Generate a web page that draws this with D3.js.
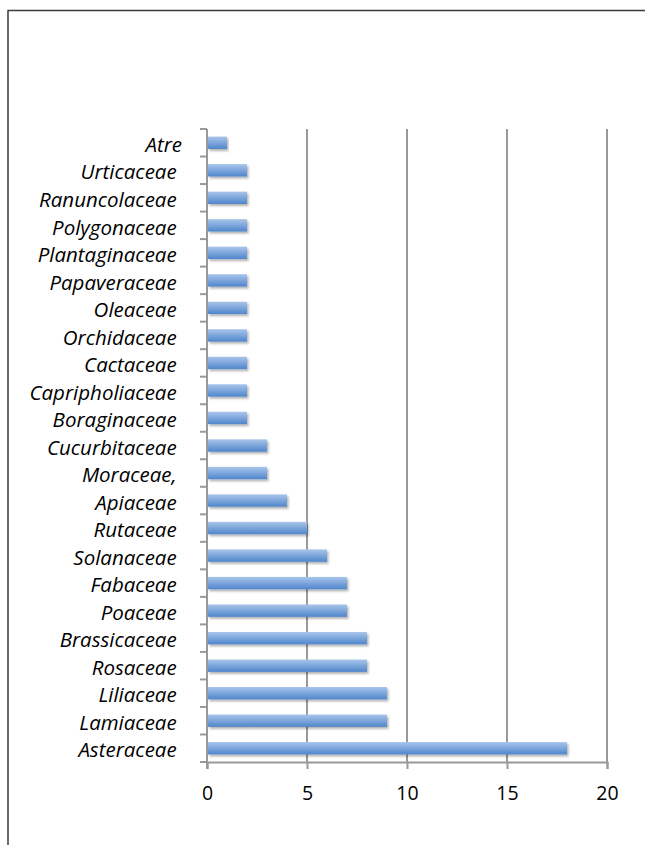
<!DOCTYPE html>
<html>
<head>
<meta charset="utf-8">
<script src="https://cdn.jsdelivr.net/npm/d3@7"></script>
<style>
  body { margin: 0; background: #fff; }
  svg text { font-family: "Open Sans", Lato, sans-serif; }
</style>
</head>
<body>
<div id="chart"></div>
<script>
// families, top to bottom (trailing space as in the original labels)
const families = ["Atre", "Urticaceae ", "Ranuncolaceae ", "Polygonaceae ", "Plantaginaceae ",
  "Papaveraceae ", "Oleaceae ", "Orchidaceae ", "Cactaceae ", "Capripholiaceae ",
  "Boraginaceae ", "Cucurbitaceae ", "Moraceae, ", "Apiaceae ", "Rutaceae ",
  "Solanaceae ", "Fabaceae ", "Poaceae ", "Brassicaceae ", "Rosaceae ",
  "Liliaceae ", "Lamiaceae ", "Asteraceae "]
const counts = [1, 2, 2, 2, 2, 2, 2, 2, 2, 2, 2, 3, 3, 4, 5, 6, 7, 7, 8, 8, 9, 9, 18]
const xTicks = [0, 5, 10, 15, 20]

const width = 645, height = 845
const margin = {top: 129, right: 38, bottom: 83, left: 207}

const svg = d3.select("#chart").append("svg")
    .attr("width", width)
    .attr("height", height)

// gradient + shadow for bars
const defs = svg.append("defs")
const grad = defs.append("linearGradient")
    .attr("id", "barGrad").attr("x1", 0).attr("y1", 0).attr("x2", 0).attr("y2", 1)
grad.append("stop").attr("offset", "0%").attr("stop-color", "#a9c5ea")
grad.append("stop").attr("offset", "100%").attr("stop-color", "#4f86cc")
const shadow = defs.append("filter").attr("id", "shadow")
    .attr("x", "-5%").attr("y", "-30%").attr("width", "115%").attr("height", "190%")
shadow.append("feDropShadow")
    .attr("dx", 1.5).attr("dy", 2).attr("stdDeviation", 1.2)
    .attr("flood-color", "#000").attr("flood-opacity", 0.3)

// outer frame
svg.append("path")
    .attr("d", `M8,${height + 5} V10.5 H${width + 5}`)
    .attr("fill", "none").attr("stroke", "#3a3a3a").attr("stroke-width", 1.5)

const x = d3.scaleLinear().domain([0, 20]).range([margin.left, width - margin.right])
const y = d3.scaleBand().domain(families).range([margin.top, height - margin.bottom]).paddingInner(0.55).paddingOuter(0.275)

// vertical gridlines
svg.append("g").selectAll("line")
    .data(xTicks.slice(1))
    .enter().append("line")
    .attr("x1", d => x(d)).attr("x2", d => x(d))
    .attr("y1", margin.top).attr("y2", height - margin.bottom)
    .attr("stroke", "#999").attr("stroke-width", 2)

// bars
svg.append("g").selectAll("rect")
    .data(families)
    .enter().append("rect")
    .attr("x", x(0) + 1)
    .attr("y", d => y(d))
    .attr("width", (d, i) => x(counts[i]) - x(0) - 1)
    .attr("height", y.bandwidth())
    .attr("fill", "url(#barGrad)")
    .attr("filter", "url(#shadow)")

// x axis
const xAxis = svg.append("g")
    .attr("transform", `translate(0,${height - margin.bottom})`)
    .call(d3.axisBottom(x).tickValues(xTicks).tickSize(7).tickPadding(17))
xAxis.select(".domain").attr("stroke", "#999").attr("stroke-width", 2)
xAxis.selectAll(".tick line").attr("stroke", "#999").attr("stroke-width", 2)
xAxis.selectAll("text").attr("font-size", 19.5).attr("fill", "#000")

// y axis: ticks sit on band boundaries
const bounds = d3.range(families.length + 1).map(i => margin.top + i * y.step())
const yAxis = svg.append("g")
yAxis.append("line")
    .attr("x1", x(0)).attr("x2", x(0))
    .attr("y1", margin.top).attr("y2", height - margin.bottom + 7)
    .attr("stroke", "#999").attr("stroke-width", 2)
yAxis.selectAll(".tk")
    .data(bounds)
    .enter().append("line")
    .attr("class", "tk")
    .attr("x1", x(0) - 7).attr("x2", x(0))
    .attr("y1", d => d).attr("y2", d => d)
    .attr("stroke", "#999").attr("stroke-width", 2)
yAxis.selectAll("text")
    .data(families)
    .enter().append("text")
    .attr("x", x(0) - 25)
    .attr("y", d => y(d) + y.bandwidth() / 2 + 2)
    .attr("dy", "0.35em")
    .attr("text-anchor", "end")
    .attr("font-size", 20.5)
    .attr("font-style", "italic")
    .style("white-space", "pre")
    .text(d => d)
</script>
</body>
</html>
